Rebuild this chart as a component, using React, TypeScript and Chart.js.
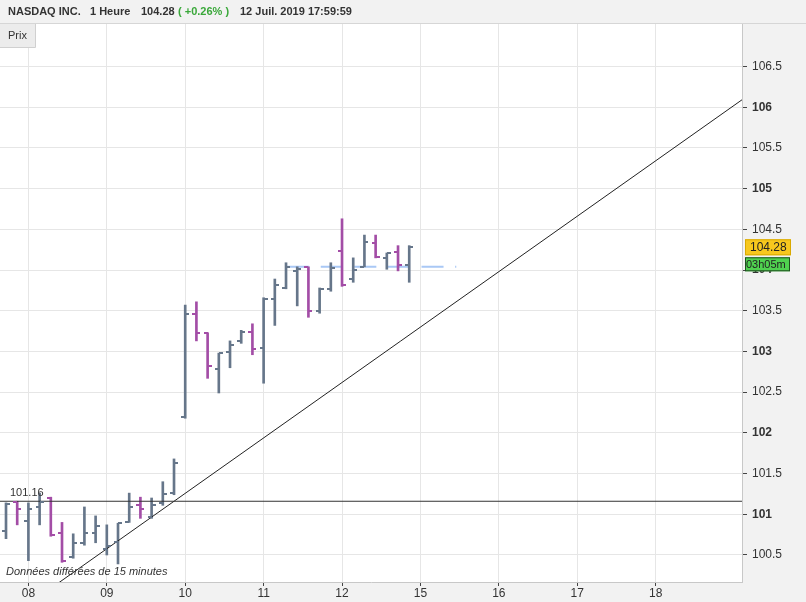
import React, { useEffect, useRef } from "react";
import { Chart, registerables } from "chart.js";

Chart.register(...registerables);

// ---- data ----
const OPEN = [100.79, 101.15, 100.92, 101.09, 101.2, 100.77, 100.47, 100.65, 100.77, 100.57, 100.66, 100.9, 101.11, 100.97, 101.14, 101.26, 102.19, 103.46, 103.23, 102.78, 102.99, 103.13, 103.24, 103.04, 103.64, 103.78, 103.99, 104.04, 103.5, 103.77, 104.23, 103.89, 104.04, 104.33, 104.15, 104.22, 104.06];
const HIGH = [101.14, 101.16, 101.14, 101.26, 101.21, 100.9, 100.76, 101.09, 100.98, 100.87, 100.89, 101.26, 101.21, 101.2, 101.4, 101.68, 103.57, 103.61, 103.23, 102.98, 103.13, 103.26, 103.34, 103.66, 103.89, 104.09, 104.04, 104.04, 103.78, 104.09, 104.63, 104.15, 104.43, 104.43, 104.21, 104.3, 104.3];
const LOW = [100.7, 100.87, 100.43, 100.87, 100.73, 100.41, 100.46, 100.62, 100.65, 100.5, 100.39, 100.9, 100.95, 100.95, 101.11, 101.24, 102.18, 103.13, 102.67, 102.49, 102.8, 103.1, 102.96, 102.61, 103.32, 103.77, 103.56, 103.42, 103.47, 103.74, 103.8, 103.85, 104.04, 104.15, 104.01, 103.99, 103.85];
const CLOSE = [101.13, 101.06, 101.06, 101.15, 100.74, 100.43, 100.65, 100.77, 100.86, 100.61, 100.89, 101.09, 101.06, 101.11, 101.25, 101.63, 103.46, 103.23, 102.82, 102.98, 103.08, 103.24, 103.03, 103.64, 103.82, 104.04, 104.01, 103.5, 103.77, 104.03, 103.82, 104.0, 104.34, 104.16, 104.21, 104.06, 104.28];

const X_TICK_IDX = [2, 9, 16, 23, 30, 37, 44, 51, 58];
const X_LABELS = ["08", "09", "10", "11", "12", "15", "16", "17", "18"];
const Y_TICKS = [100.5, 101, 101.5, 102, 102.5, 103, 103.5, 104, 104.5, 105, 105.5, 106, 106.5];

const SUPPORT_LEVEL = 101.16;
const SUPPORT_X = [-1, 67];
const TREND_X = [4, 66];
const TREND_Y = [100.09, 106.12];
const PIVOT_LEVEL = 104.04;
const PIVOT_X = [25.1, 40.2];
const LAST_PRICE = 104.28;
const COUNTDOWN = "03h05m";

const FONT = "'Liberation Sans', Arial, Helvetica, sans-serif";
const UP = "#66768a";
const DOWN = "#a34da6";

const ohlcTicks = {
  id: "ohlcTicks",
  beforeDraw(chart: any) {
    const { ctx, chartArea } = chart;
    ctx.save();
    ctx.fillStyle = "#f2f2f2";
    ctx.fillRect(0, 0, chart.width, chart.height);
    ctx.fillStyle = "#ffffff";
    ctx.fillRect(chartArea.left, chartArea.top, chartArea.right - chartArea.left, chartArea.bottom - chartArea.top);
    ctx.strokeStyle = "#d6d6d6";
    ctx.lineWidth = 1;
    ctx.beginPath();
    ctx.moveTo(0, chartArea.top - 0.5);
    ctx.lineTo(chart.width, chartArea.top - 0.5);
    ctx.stroke();
    ctx.restore();
  },
  afterDatasetsDraw(chart: any) {
    const { ctx } = chart;
    const xs = chart.scales.x;
    const ys = chart.scales.y;
    ctx.save();
    ctx.lineWidth = 2;
    for (let i = 0; i < OPEN.length; i++) {
      const x = Math.round(xs.getPixelForValue(i));
      const yo = Math.round(ys.getPixelForValue(OPEN[i]));
      const yc = Math.round(ys.getPixelForValue(CLOSE[i]));
      ctx.strokeStyle = CLOSE[i] >= OPEN[i] ? UP : DOWN;
      ctx.beginPath();
      ctx.moveTo(x - 4, yo);
      ctx.lineTo(x, yo);
      ctx.moveTo(x, yc);
      ctx.lineTo(x + 4, yc);
      ctx.stroke();
    }
    ctx.restore();
  },
  afterDraw(chart: any) {
    const { ctx, chartArea } = chart;
    const ys = chart.scales.y;
    ctx.save();
    // header
    ctx.textBaseline = "middle";
    ctx.font = `bold 11px ${FONT}`;
    ctx.fillStyle = "#333";
    ctx.fillText("NASDAQ INC.", 8, 12);
    ctx.fillText("1 Heure", 90, 12);
    ctx.fillText("104.28", 141, 12);
    ctx.fillStyle = "#3aa83a";
    ctx.fillText("( +0.26% )", 178, 12);
    ctx.fillStyle = "#333";
    ctx.fillText("12 Juil. 2019 17:59:59", 240, 12);
    // Prix box
    ctx.fillStyle = "#ececec";
    ctx.fillRect(0, chartArea.top, 35, 23);
    ctx.strokeStyle = "#d0d0d0";
    ctx.lineWidth = 1;
    ctx.beginPath();
    ctx.moveTo(35.5, chartArea.top);
    ctx.lineTo(35.5, chartArea.top + 23.5);
    ctx.lineTo(0, chartArea.top + 23.5);
    ctx.stroke();
    ctx.fillStyle = "#333";
    ctx.font = `11px ${FONT}`;
    ctx.fillText("Prix", 8, chartArea.top + 12);
    // support label
    const ySup = ys.getPixelForValue(SUPPORT_LEVEL);
    ctx.fillText(String(SUPPORT_LEVEL), 10, ySup - 8);
    // footnote
    ctx.font = `italic 11px ${FONT}`;
    ctx.fillText("Données différées de 15 minutes", 6, chartArea.bottom - 10);
    // last price box
    const yl = ys.getPixelForValue(LAST_PRICE);
    ctx.fillStyle = "#f7c81e";
    ctx.fillRect(745, yl - 8, 46, 16);
    ctx.strokeStyle = "#d9a900";
    ctx.strokeRect(745.5, yl - 7.5, 45, 15);
    ctx.fillStyle = "#222";
    ctx.font = `12px ${FONT}`;
    ctx.fillText(String(LAST_PRICE), 750, yl);
    // countdown box
    ctx.fillStyle = "#4fd14f";
    ctx.fillRect(745, yl + 10, 45, 14);
    ctx.strokeStyle = "#1f4f1f";
    ctx.strokeRect(745.5, yl + 10.5, 44, 13);
    ctx.fillStyle = "#222";
    ctx.font = `11px ${FONT}`;
    ctx.fillText(COUNTDOWN, 746, yl + 17.5);
    ctx.restore();
  },
};

export default function App() {
  const ref = useRef<HTMLCanvasElement | null>(null);
  useEffect(() => {
    document.body.style.margin = "0";
    const canvas = ref.current!;
    const idx = OPEN.map((_, i) => i);
    const chart = new Chart(canvas, {
      type: "bar",
      data: {
        datasets: [
          {
            type: "bar",
            data: idx.map((i) => ({ x: i, y: [LOW[i], HIGH[i]] })) as any,
            backgroundColor: idx.map((i) => (CLOSE[i] >= OPEN[i] ? UP : DOWN)),
            barThickness: 2,
            order: 2,
          } as any,
          {
            type: "line",
            data: PIVOT_X.map((x) => ({ x, y: PIVOT_LEVEL })),
            borderColor: "#a9c8f5",
            borderWidth: 2,
            borderDash: [22, 11.6],
            pointRadius: 0,
            order: 5,
          } as any,
          {
            type: "line",
            data: SUPPORT_X.map((x) => ({ x, y: SUPPORT_LEVEL })),
            borderColor: "#333",
            borderWidth: 1,
            pointRadius: 0,
            order: 1,
          } as any,
          {
            type: "line",
            data: TREND_X.map((x, k) => ({ x, y: TREND_Y[k] })),
            borderColor: "#222",
            borderWidth: 1,
            pointRadius: 0,
            order: 1,
          } as any,
        ],
      },
      options: {
        animation: false,
        responsive: false,
        devicePixelRatio: 1,
        layout: { padding: { top: 24, left: 0, right: 0, bottom: 0 } },
        plugins: { legend: { display: false }, tooltip: { enabled: false } },
        scales: {
          x: {
            type: "linear",
            offset: false,
            min: -0.536,
            max: 65.71,
            afterBuildTicks: (s: any) => {
              s.ticks = X_TICK_IDX.map((v) => ({ value: v }));
            },
            afterFit: (s: any) => {
              s.height = 20;
            },
            ticks: {
              autoSkip: false,
              maxRotation: 0,
              padding: 0,
              color: "#333",
              font: { size: 12, family: FONT },
              callback: (v: any) => X_LABELS[X_TICK_IDX.indexOf(Number(v))] ?? "",
            },
            grid: { offset: false, color: "#e6e6e6", tickColor: "#444", tickLength: 4 },
            border: { color: "#c8c8c8" },
          },
          y: {
            type: "linear",
            position: "right",
            min: 100.168,
            max: 107.023,
            afterBuildTicks: (s: any) => {
              s.ticks = Y_TICKS.map((v) => ({ value: v }));
            },
            afterFit: (s: any) => {
              s.width = 64;
            },
            ticks: {
              padding: 5,
              color: "#333",
              font: (c: any) => ({
                size: 12,
                family: FONT,
                weight: c.tick && Number.isInteger(c.tick.value) ? "bold" : "normal",
              }),
              callback: (v: any) => String(v),
            },
            grid: { color: "#e6e6e6", tickColor: "#444", tickLength: 5 },
            border: { color: "#c8c8c8" },
          },
        },
      } as any,
      plugins: [ohlcTicks],
    });
    return () => chart.destroy();
  }, []);
  return (
    <div style={{ position: "absolute", left: 0, top: 0, width: 806, height: 602 }}>
      <canvas ref={ref} width={806} height={602} style={{ display: "block" }} />
    </div>
  );
}
